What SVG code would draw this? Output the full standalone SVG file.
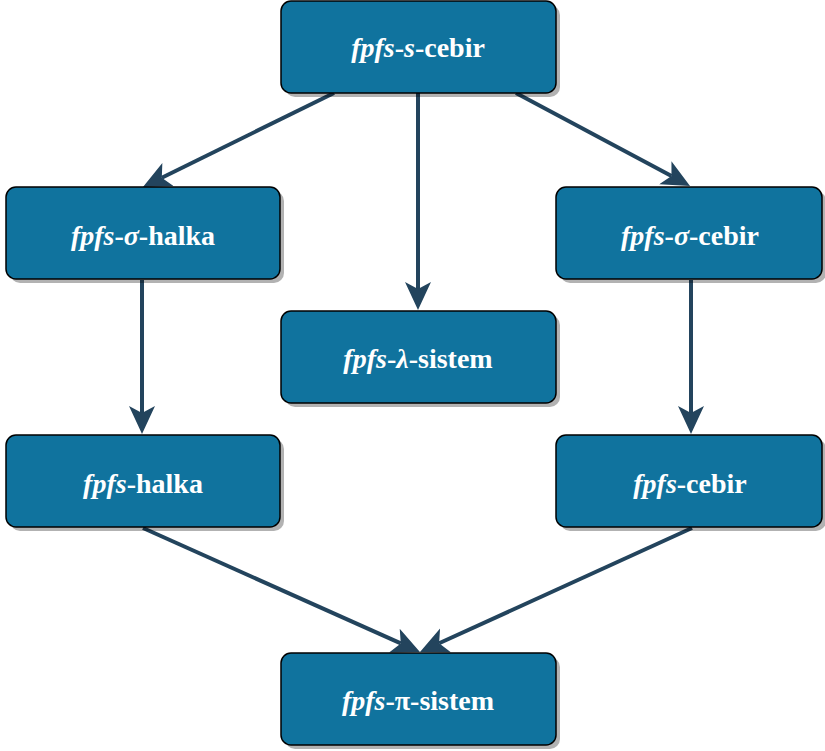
<svg xmlns="http://www.w3.org/2000/svg" width="825" height="751" viewBox="0 0 825 751">
<defs>
<style>
.box{fill:#10739E;stroke:#000;stroke-width:1.5}
.sh{fill:#000;opacity:0.3}
.t{font-family:'Liberation Serif','Times New Roman','DejaVu Serif',serif;font-size:28px;font-weight:bold;fill:#fff;text-anchor:middle}
.i{font-style:italic}
.c{fill:none;stroke:#23445D;stroke-width:4}
</style>
<marker id="ah" viewBox="0 0 30 30" refX="7" refY="15" markerWidth="30" markerHeight="30" markerUnits="userSpaceOnUse" orient="auto">
<path d="M0,2 L28,15 L0,28 L7,15 Z" fill="#23445D"/>
</marker>
</defs>
<g id="connectors">
<line class="c" x1="334" y1="93" x2="161.8" y2="177.7" marker-end="url(#ah)"/>
<line class="c" x1="418" y1="93" x2="418" y2="289" marker-end="url(#ah)"/>
<line class="c" x1="516" y1="93" x2="671.5" y2="176.1" marker-end="url(#ah)"/>
<line class="c" x1="142" y1="280" x2="142" y2="413" marker-end="url(#ah)"/>
<line class="c" x1="691" y1="280" x2="691" y2="413" marker-end="url(#ah)"/>
<line class="c" x1="143" y1="528" x2="400.8" y2="643.4" marker-end="url(#ah)"/>
<line class="c" x1="692" y1="528" x2="439.1" y2="643.3" marker-end="url(#ah)"/>
</g>
<g id="n1"><rect class="sh" x="285" y="5" width="275" height="92" rx="10"/><rect class="box" x="281" y="1" width="275" height="92" rx="10"/><text class="t" x="418" y="57"><tspan class="i">fpfs</tspan>-<tspan class="i">s</tspan>-cebir</text></g>
<g id="n2"><rect class="sh" x="10" y="191" width="274" height="92" rx="10"/><rect class="box" x="6" y="187" width="274" height="92" rx="10"/><text class="t" x="143" y="245"><tspan class="i">fpfs</tspan>-<tspan class="i">σ</tspan>-halka</text></g>
<g id="n3"><rect class="sh" x="560" y="191" width="266" height="92" rx="10"/><rect class="box" x="556" y="187" width="266" height="92" rx="10"/><text class="t" x="690" y="245"><tspan class="i">fpfs</tspan>-<tspan class="i">σ</tspan>-cebir</text></g>
<g id="n4"><rect class="sh" x="285" y="315" width="275" height="92" rx="10"/><rect class="box" x="281" y="311" width="275" height="92" rx="10"/><text class="t" x="418" y="368"><tspan class="i">fpfs</tspan>-<tspan class="i">λ</tspan>-sistem</text></g>
<g id="n5"><rect class="sh" x="10" y="439" width="274" height="92" rx="10"/><rect class="box" x="6" y="435" width="274" height="92" rx="10"/><text class="t" x="143" y="493"><tspan class="i">fpfs</tspan>-halka</text></g>
<g id="n6"><rect class="sh" x="560" y="439" width="266" height="92" rx="10"/><rect class="box" x="556" y="435" width="266" height="92" rx="10"/><text class="t" x="690" y="493"><tspan class="i">fpfs</tspan>-cebir</text></g>
<g id="n7"><rect class="sh" x="285" y="657" width="275" height="92" rx="10"/><rect class="box" x="281" y="653" width="275" height="92" rx="10"/><text class="t" x="418" y="710"><tspan class="i">fpfs</tspan>-π-sistem</text></g>
</svg>
